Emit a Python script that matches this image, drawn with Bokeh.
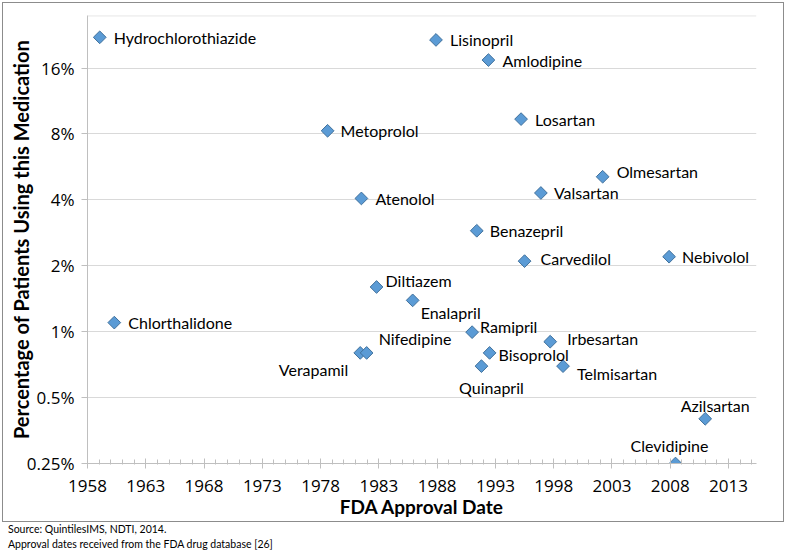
import math
from bokeh.plotting import figure
from bokeh.models import (Range1d, FixedTicker, CustomJSTickFormatter, ColumnDataSource,
                          Span, Div)
from bokeh.layouts import column
from bokeh.embed import file_html
from bokeh.resources import INLINE
from bokeh.core.properties import value

# ---------------- data ----------------
drugs = ["Hydrochlorothiazide", "Lisinopril", "Amlodipine", "Losartan", "Metoprolol",
         "Atenolol", "Olmesartan", "Valsartan", "Benazepril", "Carvedilol", "Nebivolol",
         "Diltiazem", "Enalapril", "Chlorthalidone", "Ramipril", "Irbesartan",
         "Bisoprolol", "Quinapril", "Telmisartan", "Verapamil", "Nifedipine",
         "Azilsartan", "Clevidipine"]
approval_year = [1959.05, 1987.9, 1992.4, 1995.2, 1978.6,
                 1981.5, 2002.2, 1996.9, 1991.4, 1995.5, 2007.9,
                 1982.8, 1985.9, 1960.3, 1991.0, 1997.7,
                 1992.5, 1991.8, 1998.8, 1981.4, 1981.95,
                 2011.0, 2008.45]
pct_patients = [22.1, 21.5, 17.4, 9.35, 8.27,
                4.06, 5.1, 4.3, 2.89, 2.1, 2.2,
                1.6, 1.39, 1.1, 0.995, 0.9,
                0.8, 0.696, 0.696, 0.8, 0.8,
                0.4, 0.25]

x_major_ticks = [1958, 1963, 1968, 1973, 1978, 1983, 1988, 1993, 1998, 2003, 2008, 2013]
x_minor_ticks = [1958 + i for i in range(58)]
y_ticks = [0.25, 0.5, 1, 2, 4, 8, 16]
x_min, x_max = 1958, 2015.4
y_min, y_max = 0.25, 27.8

x_title = "FDA Approval Date"
y_title = "Percentage of Patients Using this Medication"
source_lines = ["Source: QuintilesIMS, NDTI, 2014.",
                "Approval dates received from the FDA drug database [26]"]

# label placement (align, dx px, dy px downward)
label_place = {
    "Hydrochlorothiazide": ("left", 14, 0), "Lisinopril": ("left", 14, 0),
    "Amlodipine": ("left", 14, 0), "Losartan": ("left", 14, 0),
    "Metoprolol": ("left", 13, 0), "Atenolol": ("left", 14, 0),
    "Olmesartan": ("left", 14, -5), "Valsartan": ("left", 13, 0),
    "Benazepril": ("left", 13, 0), "Carvedilol": ("left", 16, -3),
    "Nebivolol": ("left", 13, 0), "Diltiazem": ("left", 9, -6),
    "Enalapril": ("left", 8, 12), "Chlorthalidone": ("left", 14, 0),
    "Ramipril": ("left", 8, -6), "Irbesartan": ("left", 17, -3),
    "Bisoprolol": ("left", 9, 2), "Quinapril": ("center", 10, 21),
    "Telmisartan": ("left", 14, 7), "Verapamil": ("right", -12, 17),
    "Nifedipine": ("left", 12, -14), "Azilsartan": ("center", 10, -13),
    "Clevidipine": ("center", -6, -18),
}

LABEL_FONT = "Lato"
TICK_FONT = "Open Sans"

src = ColumnDataSource(dict(
    x=approval_year, y=pct_patients, name=drugs,
    align=[label_place[d][0] for d in drugs],
    dx=[label_place[d][1] for d in drugs],
    dy=[label_place[d][2] for d in drugs],
))

W, H = 787, 523
p = figure(width=W, height=H, x_range=Range1d(x_min, x_max),
           y_range=Range1d(y_min, y_max), y_axis_type="log",
           output_backend="svg", toolbar_location=None,
           min_border_left=87, min_border_right=31, min_border_top=15,
           min_border_bottom=60)
p.outline_line_color = None
p.background_fill_color = "white"
p.border_fill_color = "white"

# axes
xa = p.xaxis[0]
xa.ticker = FixedTicker(ticks=x_major_ticks, minor_ticks=x_minor_ticks)
xa.axis_line_color = "#bfbfbf"
xa.major_tick_line_color = "#bfbfbf"
xa.minor_tick_line_color = "#bfbfbf"
xa.major_tick_in = 5
xa.major_tick_out = 5
xa.minor_tick_in = 4
xa.minor_tick_out = 1
xa.major_label_text_font = TICK_FONT
xa.major_label_text_font_size = "17px"
xa.major_label_text_color = "black"
xa.major_label_standoff = 11
xa.axis_label = x_title
xa.axis_label_text_font = LABEL_FONT
xa.axis_label_text_font_style = "bold"
xa.axis_label_text_font_size = "19px"
xa.axis_label_text_color = "black"
xa.axis_label_standoff = 0

ya = p.yaxis[0]
ya.ticker = FixedTicker(ticks=y_ticks, minor_ticks=[])
ya.formatter = CustomJSTickFormatter(code="return tick + '%';")
ya.axis_line_color = "#bfbfbf"
ya.major_tick_line_color = "#bfbfbf"
ya.minor_tick_line_color = None
ya.major_tick_in = 0
ya.major_tick_out = 6
ya.major_label_text_font = TICK_FONT
ya.major_label_text_font_size = "17px"
ya.major_label_text_color = "black"
ya.major_label_standoff = 7
ya.axis_label = y_title
ya.axis_label_text_font = LABEL_FONT
ya.axis_label_text_font_style = "bold"
ya.axis_label_text_font_size = "20px"
ya.axis_label_text_color = "black"
ya.axis_label_standoff = -9

p.xgrid.visible = False
p.ygrid.grid_line_color = "#d9d9d9"
p.ygrid.grid_line_width = 1

p.add_layout(Span(location=y_max * 0.997, dimension="width",
                  line_color="#d9d9d9", line_width=1))

p.scatter(x="x", y="y", source=src, marker="square", size=9, angle=math.pi / 4,
          fill_color="#5B9BD5", line_color="#41719C", line_width=1)

p.text(x="x", y="y", text="name", source=src, x_offset="dx", y_offset="dy",
       text_align="align", text_baseline="middle", text_font=value(LABEL_FONT),
       text_font_size="16px", text_color="black")

# outer chart border drawn as an overlay box, plus the source notes underneath
border_html = ('<div style="position:absolute; left:2px; top:-521px; width:782px; '
               'height:520px; box-sizing:border-box; border:1px solid #8c8c8c; '
               'pointer-events:none;"></div>')
notes_html = ('<div style="position:relative; top:-1px; padding-left:8px; '
              f'font-family:{LABEL_FONT}; font-size:10.5px; line-height:15px; color:black;">'
              + "<br>".join(source_lines) + '</div>')
div = Div(text='<div style="position:relative; width:787px; height:28px;">'
          + border_html + notes_html + '</div>',
          width=W, height=28, margin=(0, 0, 0, 0))

layout = column(p, div, spacing=0)
open("out.html", "w").write(file_html(layout, INLINE))
